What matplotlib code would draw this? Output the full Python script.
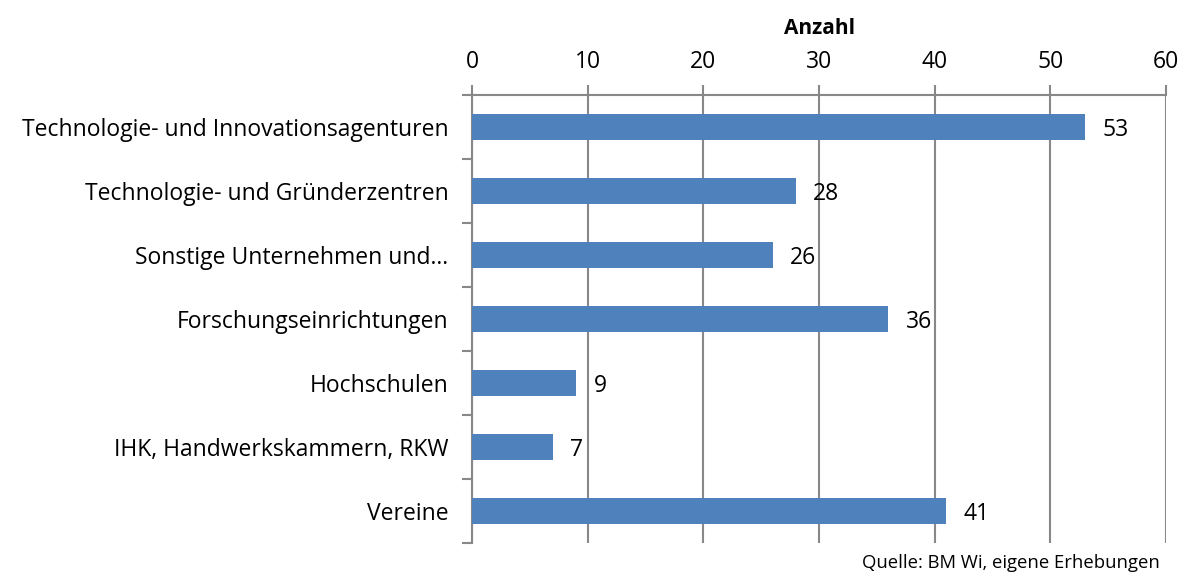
import matplotlib.pyplot as plt
import numpy as np

categories = ["Technologie- und Innovationsagenturen", "Technologie- und Gründerzentren",
              "Sonstige Unternehmen und…", "Forschungseinrichtungen", "Hochschulen",
              "IHK, Handwerkskammern, RKW", "Vereine"]
values = [53, 28, 26, 36, 9, 7, 41]
xticks = [0, 10, 20, 30, 40, 50, 60]


def main():
    plt.rcParams['font.family'] = ['Open Sans', 'DejaVu Sans']
    fig = plt.figure(figsize=(11.88, 5.74), dpi=100)
    ax = fig.add_axes([472 / 1188, 1 - 543 / 574, (1166 - 472) / 1188, (543 - 95) / 574])

    y = np.arange(len(categories))
    ax.barh(y, values, height=0.4, color='#4F81BD', zorder=3)
    for yi, v in zip(y, values):
        ax.text(v + 1.5, yi + 0.04, str(v), va='center', ha='left', fontsize=16.5, zorder=4)

    ax.set_ylim(len(categories) - 0.5, -0.5)
    ax.set_xlim(0, 60)
    ax.set_xticks(xticks)
    ax.xaxis.tick_top()
    ax.xaxis.set_label_position('top')
    ax.set_xlabel('Anzahl', fontsize=15, fontweight='bold', labelpad=12)
    ax.tick_params(axis='x', labelsize=16.5, length=7, width=1.5, color='#888888', pad=8)
    ax.grid(axis='x', color='#888888', linewidth=1.5, zorder=0)

    ax.set_yticks(y)
    ax.set_yticklabels(categories, fontsize=16.5)
    ax.set_yticks(np.arange(-0.5, len(categories)), minor=True)
    ax.tick_params(axis='y', which='major', length=0, pad=17)
    ax.tick_params(axis='y', which='minor', length=7, width=1.5, color='#888888')

    for s in ['right', 'bottom']:
        ax.spines[s].set_visible(False)
    for s in ['left', 'top']:
        ax.spines[s].set_color('#888888')
        ax.spines[s].set_linewidth(1.5)

    fig.text(1160 / 1188, 1 - 563 / 574, 'Quelle: BM Wi, eigene Erhebungen',
             ha='right', va='center', fontsize=13.3)
    fig.savefig('out.png', dpi=100)


if __name__ == '__main__':
    main()
